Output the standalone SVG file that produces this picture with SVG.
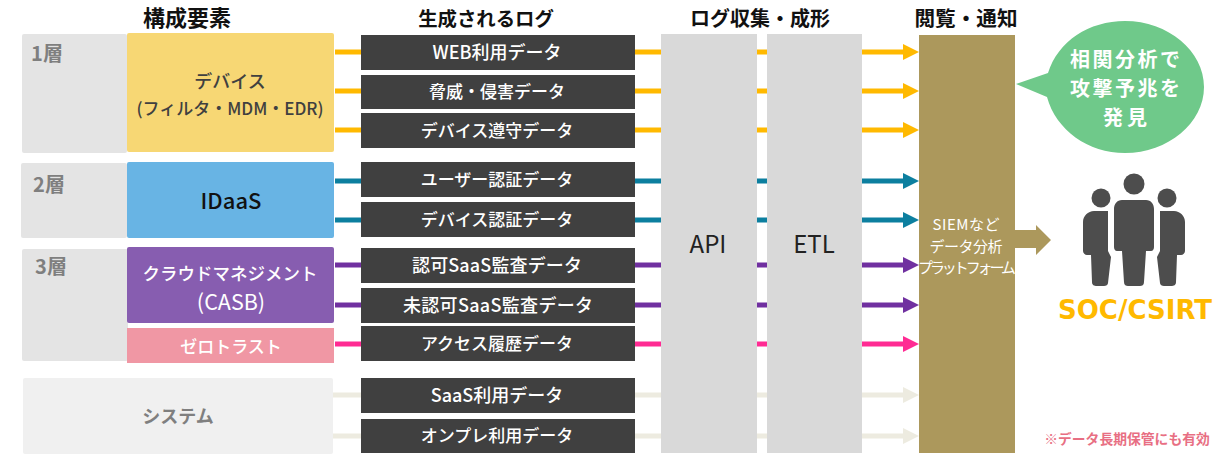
<svg xmlns="http://www.w3.org/2000/svg" width="1224" height="460" viewBox="0 0 1224 460">
<style>
text{font-family:"Noto Sans CJK JP","Noto Sans",sans-serif;text-anchor:middle}
.h{font-size:20px;font-weight:700;fill:#111}
.l{font-size:17px;font-weight:500;fill:#fff}
.m{font-size:18px}
.layer{font-size:20px;font-weight:700;fill:#7f7f7f}
.c{stroke-width:5;fill:none}
.y{stroke:#ffb900}.t{stroke:#0c7f9f}.p{stroke:#7030a0}.k{stroke:#ff2b93}.g{stroke:#edebe0}
.ay{fill:#ffb900}.at{fill:#0c7f9f}.ap{fill:#7030a0}.ak{fill:#ff2b93}.ag{fill:#edebe0}
.log{fill:#404040}.col{fill:#d9d9d9}.bg{fill:#e4e4e4}
.pp{fill:#4d4d4d}
</style>
<defs>
<path id="ah" d="M903 -8L919 0L903 8Z"/>
</defs>
<g id="headers">
<text class="h" x="187" y="26" style="font-size:22px">構成要素</text>
<text class="h" x="486" y="26" style="font-size:19.4px">生成されるログ</text>
<text class="h" x="760" y="26">ログ収集・成形</text>
<text class="h" x="966" y="26" style="font-size:20.6px">閲覧・通知</text>
</g>
<g id="connectors">
<g class="c">
<path class="y" d="M335 52H905M335 91H905M335 130H905"/>
<path class="t" d="M335 181H905M335 220H905"/>
<path class="p" d="M335 265H905M335 305H905"/>
<path class="k" d="M335 344H905"/>
<path class="g" d="M333 395H905M333 436H905"/>
</g>
<use href="#ah" y="52" class="ay"/><use href="#ah" y="91" class="ay"/><use href="#ah" y="130" class="ay"/>
<use href="#ah" y="181" class="at"/><use href="#ah" y="220" class="at"/>
<use href="#ah" y="265" class="ap"/><use href="#ah" y="305" class="ap"/>
<use href="#ah" y="344" class="ak"/>
<use href="#ah" y="395" class="ag"/><use href="#ah" y="436" class="ag"/>
<path id="out" fill="#ac985c" d="M1015 230H1036V225L1051 240L1036 255V248H1015Z"/>
</g>
<g id="layer1"><rect class="bg" x="22" y="34" width="105" height="119" rx="2"/><text class="layer" x="47" y="61">1層</text></g>
<g id="layer2"><rect class="bg" x="21" y="163" width="106" height="75" rx="2"/><text class="layer" x="49" y="192">2層</text></g>
<g id="layer3"><rect class="bg" x="22" y="249" width="106" height="112" rx="2"/><text class="layer" x="51" y="274">3層</text></g>
<g id="device"><rect x="127" y="33" width="207" height="119" rx="2" fill="#f7d774"/>
<text x="230" y="88" font-size="18" font-weight="500" fill="#404040">デバイス</text>
<text x="230" y="115" font-size="17" font-weight="500" fill="#404040">(フィルタ・MDM・EDR)</text></g>
<g id="idaas"><rect x="127" y="162" width="207" height="76" rx="2" fill="#68b4e4"/><text x="231" y="209" font-size="22" font-weight="500" fill="#111">IDaaS</text></g>
<g id="casb"><rect x="127" y="247" width="207" height="76" rx="2" fill="#875db0"/>
<text x="230" y="280" font-size="17.5" font-weight="500" fill="#fff">クラウドマネジメント</text><text x="231" y="310" font-size="21.5" fill="#fff">(CASB)</text></g>
<g id="zerotrust"><rect x="127" y="328" width="207" height="35" fill="#f097a4"/><text x="231" y="353" font-size="17" font-weight="500" fill="#fff">ゼロトラスト</text></g>
<g id="system"><rect x="23" y="378" width="310" height="76" rx="2" fill="#f0f0f0"/><text x="178" y="423" font-size="18" font-weight="700" fill="#7f7f7f">システム</text></g>
<g id="log1"><rect class="log" x="361" y="35" width="274" height="35"/><text class="l m" x="497" y="59">WEB利用データ</text></g>
<g id="log2"><rect class="log" x="361" y="75" width="274" height="34"/><text class="l" x="497" y="98">脅威・侵害データ</text></g>
<g id="log3"><rect class="log" x="361" y="113" width="274" height="35"/><text class="l" x="497" y="137">デバイス遵守データ</text></g>
<g id="log4"><rect class="log" x="361" y="162" width="274" height="35"/><text class="l" x="497" y="186">ユーザー認証データ</text></g>
<g id="log5"><rect class="log" x="361" y="202" width="274" height="35"/><text class="l" x="497" y="226">デバイス認証データ</text></g>
<g id="log6"><rect class="log" x="361" y="248" width="274" height="35"/><text class="l m" x="497" y="272" textLength="170">認可SaaS監査データ</text></g>
<g id="log7"><rect class="log" x="361" y="288" width="274" height="35"/><text class="l m" x="498" y="312" textLength="190">未認可SaaS監査データ</text></g>
<g id="log8"><rect class="log" x="361" y="326" width="274" height="35"/><text class="l" x="497" y="350">アクセス履歴データ</text></g>
<g id="log9"><rect class="log" x="361" y="378" width="274" height="35"/><text class="l m" x="497" y="402">SaaS利用データ</text></g>
<g id="log10"><rect class="log" x="361" y="419" width="274" height="34"/><text class="l" x="497" y="442">オンプレ利用データ</text></g>
<g id="api"><rect class="col" x="661" y="34" width="96" height="419"/><text x="708" y="253" font-size="24" fill="#222">API</text></g>
<g id="etl"><rect class="col" x="767" y="34" width="95" height="419"/><text x="814" y="253" font-size="24" fill="#222">ETL</text></g>
<g id="siem"><rect x="919" y="35" width="96" height="418" fill="#ac985c"/>
<g font-size="15" fill="#fff"><text x="966" y="230" textLength="67">SIEMなど</text><text x="966" y="252" textLength="73">データ分析</text><text x="967" y="273" textLength="98">プラットフォーム</text></g></g>
<g id="callout"><path fill="#6fc98a" d="M1016 84L1048 73C1058 41 1089 21 1125 21C1168 21 1204 51 1204 87C1204 123 1168 153 1125 153C1088 153 1056 130 1047 97Z"/>
<g font-size="20" font-weight="700" fill="#fff"><text x="1125" y="67" textLength="110">相関分析で</text><text x="1125" y="96" textLength="110">攻撃予兆を</text><text x="1125" y="125" textLength="44">発見</text></g></g>
<g id="people">
<circle class="pp" cx="1134" cy="184" r="10.5"/><circle class="pp" cx="1101" cy="198" r="9.5"/><circle class="pp" cx="1167" cy="198" r="9.5"/>
<path class="pp" d="M1122 200H1146C1151 200 1154 204 1154 209V247C1154 249 1153 251 1151 251H1146L1144 282C1144 285 1142 286 1140 286H1128C1126 286 1124 285 1124 282L1122 251H1117C1115 251 1114 249 1114 247V209C1114 204 1117 200 1122 200Z"/>
<path class="pp" d="M1108 211V251L1111 257L1108 283C1108 285 1106 286 1104 286H1097C1094 286 1092 285 1092 282L1091 255H1087C1085 255 1083 253 1083 251V222C1083 216 1088 211 1094 211Z"/>
<path class="pp" d="M1160 211V251L1157 257L1160 283C1160 285 1162 286 1164 286H1171C1174 286 1176 285 1176 282L1177 255H1181C1183 255 1185 253 1185 251V222C1185 216 1180 211 1174 211Z"/>
<text x="1135" y="319" font-size="26" font-weight="700" fill="#ffb900" style="font-family:'DejaVu Sans',sans-serif">SOC/CSIRT</text>
</g>
<text id="note" x="1127" y="444" font-size="13.8" font-weight="700" fill="#e86f83">※データ長期保管にも有効</text>
</svg>
